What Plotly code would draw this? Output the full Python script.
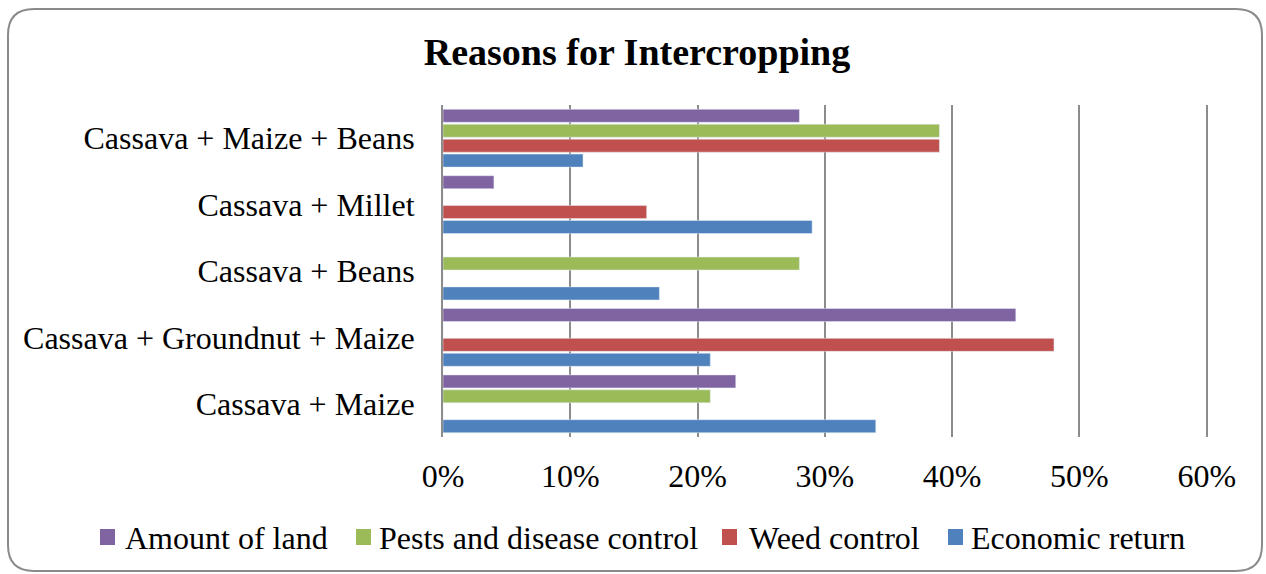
import plotly.graph_objects as go

# Crop combinations, listed top to bottom
categories = [
    "Cassava + Maize + Beans",
    "Cassava + Millet",
    "Cassava + Beans",
    "Cassava + Groundnut + Maize",
    "Cassava + Maize",
]

# Share of respondents (%) citing each reason
amount_of_land = [28, 4, 0, 45, 23]
pests_disease = [39, 0, 28, 0, 21]
weed_control = [39, 16, 0, 48, 0]
economic_return = [11, 29, 17, 21, 34]

series_names = ["Amount of land", "Pests and disease control", "Weed control", "Economic return"]
series_values = [amount_of_land, pests_disease, weed_control, economic_return]
series_colors = ["#8064A2", "#9BBB59", "#C0504D", "#4F81BD"]

x_tick_values = [0, 10, 20, 30, 40, 50, 60]
x_tick_labels = ["0%", "10%", "20%", "30%", "40%", "50%", "60%"]

W, H = 1266, 574
L, R, T, B = 443, W - 1208, 105, H - 437
pw, ph = W - L - R, H - T - B


def px(x):
    """pixel x -> paper x"""
    return (x - L) / pw


def py(y):
    """pixel y (from top) -> paper y"""
    return (H - B - y) / ph


font = "Liberation Serif, Times New Roman, serif"
label_size = 32

fig = go.Figure()
for name, vals, color in zip(series_names, series_values, series_colors):
    fig.add_trace(go.Bar(
        y=categories, x=vals, name=name, orientation="h",
        marker=dict(color=color), showlegend=False,
    ))

# rounded frame around the whole chart
x0, x1, y0, y1, rad = 8, 1262, 9, 571, 26
path = (
    f"M {px(x0 + rad)},{py(y0)} L {px(x1 - rad)},{py(y0)} "
    f"Q {px(x1)},{py(y0)} {px(x1)},{py(y0 + rad)} "
    f"L {px(x1)},{py(y1 - rad)} Q {px(x1)},{py(y1)} {px(x1 - rad)},{py(y1)} "
    f"L {px(x0 + rad)},{py(y1)} Q {px(x0)},{py(y1)} {px(x0)},{py(y1 - rad)} "
    f"L {px(x0)},{py(y0 + rad)} Q {px(x0)},{py(y0)} {px(x0 + rad)},{py(y0)} Z"
)
shapes = [dict(
    type="path", path=path, xref="paper", yref="paper",
    line=dict(color="#8A8A8A", width=2), layer="above",
)]

# legend row: colour swatch followed by the series name
legend_swatch_x = [100, 356, 722, 948]
legend_text_x = [123, 377, 747, 969]
legend_y = 537
annotations = []
for sx, tx, name, color in zip(legend_swatch_x, legend_text_x, series_names, series_colors):
    shapes.append(dict(
        type="rect", xref="paper", yref="paper",
        x0=px(sx), x1=px(sx + 15), y0=py(legend_y + 8), y1=py(legend_y - 8),
        fillcolor=color, line=dict(width=0),
    ))
    annotations.append(dict(
        text=name, xref="paper", yref="paper",
        x=px(tx), y=py(legend_y + 1), xanchor="left", yanchor="middle",
        showarrow=False, font=dict(family=font, size=label_size, color="black"),
    ))

fig.update_layout(
    width=W, height=H,
    margin=dict(l=L, r=R, t=T, b=B, autoexpand=False),
    paper_bgcolor="white", plot_bgcolor="white",
    barmode="group", bargap=0.1, bargroupgap=0.13,
    font=dict(family=font, size=label_size, color="black"),
    showlegend=False,
    title=dict(
        text="<b>Reasons for Intercropping</b>",
        x=637 / W, xanchor="center", y=1 - 52 / H, yanchor="middle",
        font=dict(family=font, size=38, color="black"),
    ),
    xaxis=dict(
        range=[0, 60.1], tickmode="array",
        tickvals=x_tick_values, ticktext=x_tick_labels,
        showgrid=True, gridcolor="#8C8C8C", gridwidth=2,
        zeroline=False, showline=False, ticks="",
        ticklabelstandoff=17,
        tickfont=dict(family=font, size=label_size, color="black"),
    ),
    yaxis=dict(
        autorange="reversed", showgrid=False,
        showline=True, linecolor="#8C8C8C", linewidth=2,
        ticks="", ticklabelstandoff=20,
        tickfont=dict(family=font, size=label_size, color="black"),
    ),
    shapes=shapes,
    annotations=annotations,
)

fig.write_html("out.html")
